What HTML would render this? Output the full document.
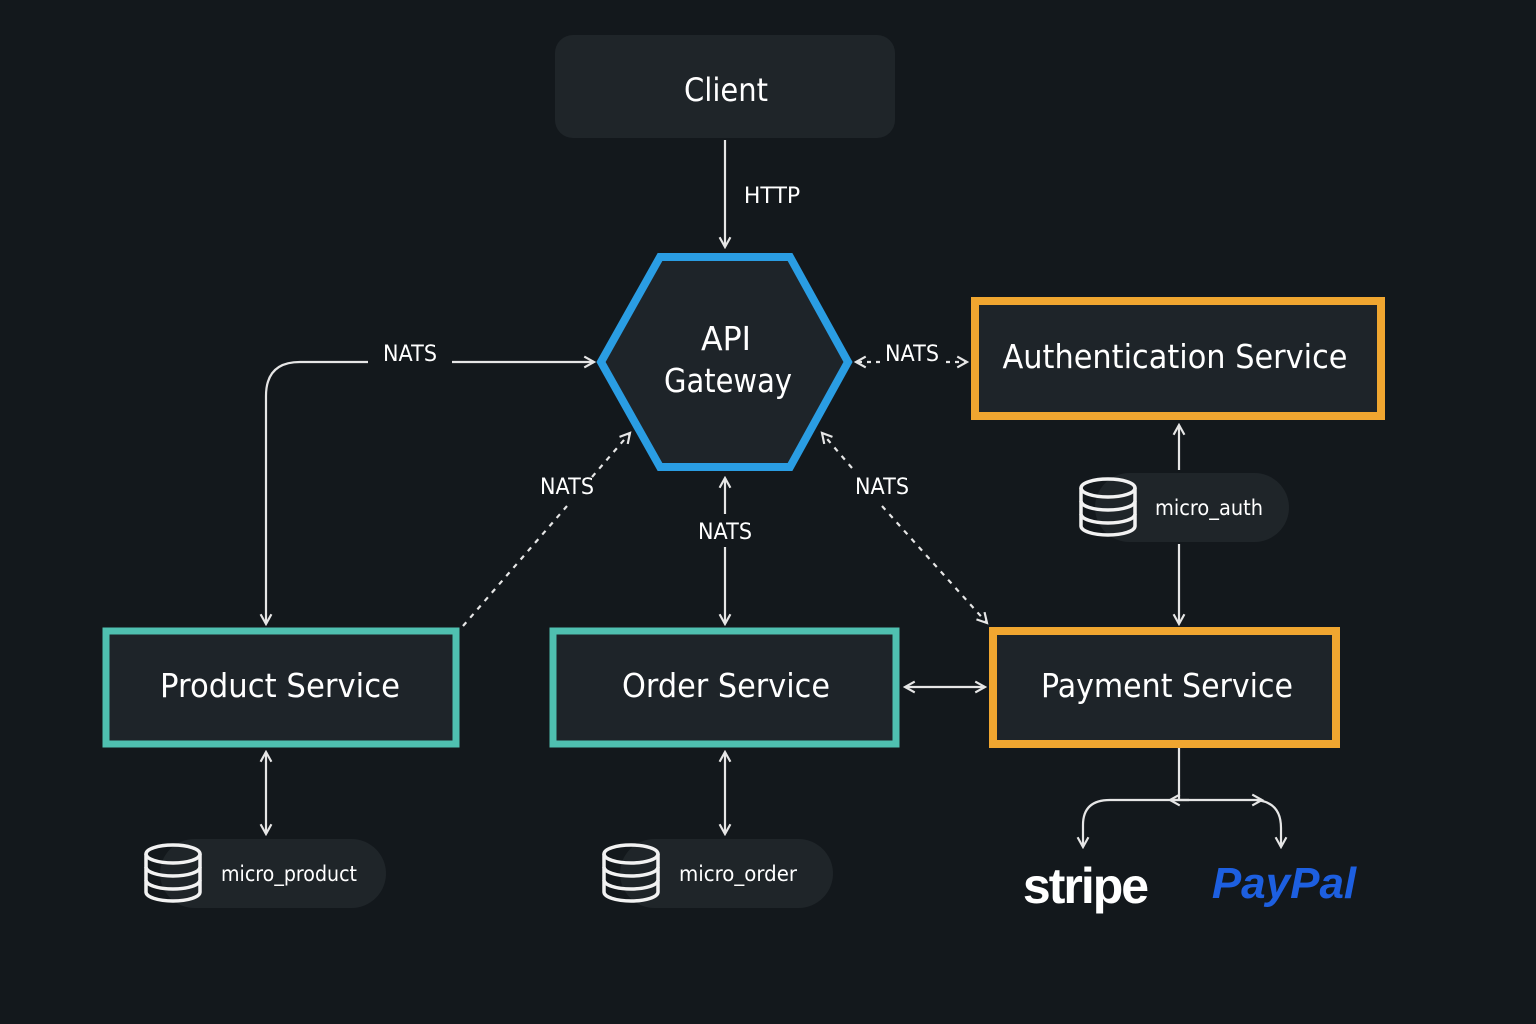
<!DOCTYPE html>
<html><head><meta charset="utf-8"><style>
html,body{margin:0;padding:0;background:#13181c;}
svg{display:block}
text{font-family:"DejaVu Sans","Liberation Sans",sans-serif;fill:#fff}
</style></head><body>
<svg width="1536" height="1024" viewBox="0 0 1536 1024" xmlns="http://www.w3.org/2000/svg">
<defs>
<marker id="a" viewBox="0 0 12 12" refX="10" refY="6" markerWidth="13" markerHeight="13" markerUnits="userSpaceOnUse" orient="auto-start-reverse">
<path d="M1,1 L10,6 L1,11" fill="none" stroke="#e6e6e6" stroke-width="2"/>
</marker>
<symbol id="db" viewBox="0 0 62 62">
<g fill="none" stroke="#f2f2f2" stroke-width="3.5">
<ellipse cx="31" cy="12" rx="27" ry="9"/>
<path d="M4,12 V50 A27,9 0 0 0 58,50 V12"/>
<path d="M4,25 A27,9 0 0 0 58,25"/>
<path d="M4,38 A27,9 0 0 0 58,38"/>
</g>
</symbol>
</defs>
<rect width="1536" height="1024" fill="#13181c"/>

<!-- Client -->
<rect x="555" y="35" width="340" height="103" rx="18" fill="#1f2529"/>
<text x="726" y="101" font-size="32" text-anchor="middle" textLength="84" lengthAdjust="spacingAndGlyphs">Client</text>
<line x1="725" y1="140" x2="725" y2="247" stroke="#e6e6e6" stroke-width="2.2" marker-end="url(#a)"/>
<text x="772" y="203" font-size="22" text-anchor="middle">HTTP</text>

<!-- Hexagon -->
<polygon points="601,362 660,257 790,257 848,362 790,467 660,467" fill="#1e2429" stroke="#2a9de3" stroke-width="8" stroke-linejoin="miter"/>
<text x="726" y="350" font-size="33" text-anchor="middle" textLength="50" lengthAdjust="spacingAndGlyphs">API</text>
<text x="728" y="392" font-size="33" text-anchor="middle" textLength="128" lengthAdjust="spacingAndGlyphs">Gateway</text>

<!-- Auth -->
<rect x="975" y="301" width="406" height="115" fill="#1e2429" stroke="#f0a630" stroke-width="8"/>
<text x="1175" y="368" font-size="33" text-anchor="middle" textLength="345" lengthAdjust="spacingAndGlyphs">Authentication Service</text>

<!-- Product / Order / Payment -->
<rect x="106" y="631" width="350" height="113" fill="#1e2429" stroke="#4fc0b0" stroke-width="7"/>
<text x="280" y="697" font-size="33" text-anchor="middle" textLength="240" lengthAdjust="spacingAndGlyphs">Product Service</text>
<rect x="553" y="631" width="343" height="113" fill="#1e2429" stroke="#4fc0b0" stroke-width="7"/>
<text x="726" y="697" font-size="33" text-anchor="middle" textLength="208" lengthAdjust="spacingAndGlyphs">Order Service</text>
<rect x="993" y="631" width="343" height="113" fill="#1e2429" stroke="#f0a630" stroke-width="8"/>
<text x="1167" y="697" font-size="33" text-anchor="middle" textLength="252" lengthAdjust="spacingAndGlyphs">Payment Service</text>

<!-- DB pills -->
<rect x="160" y="839" width="226" height="69" rx="34.5" fill="#1f2529"/>
<use href="#db" x="142" y="842" width="62" height="62"/>
<text x="289" y="881" font-size="21" text-anchor="middle" textLength="136" lengthAdjust="spacingAndGlyphs">micro_product</text>

<rect x="620" y="839" width="213" height="69" rx="34.5" fill="#1f2529"/>
<use href="#db" x="600" y="842" width="62" height="62"/>
<text x="738" y="881" font-size="21" text-anchor="middle" textLength="118" lengthAdjust="spacingAndGlyphs">micro_order</text>

<rect x="1095" y="473" width="194" height="69" rx="34.5" fill="#1f2529"/>
<use href="#db" x="1077" y="476" width="62" height="62"/>
<text x="1209" y="515" font-size="21" text-anchor="middle" textLength="108" lengthAdjust="spacingAndGlyphs">micro_auth</text>

<!-- Connectors -->
<g stroke="#e6e6e6" stroke-width="2.2" fill="none">
<path d="M368,362 H300 Q266,362 266,396 V624" marker-end="url(#a)"/>
<line x1="452" y1="362" x2="594" y2="362" marker-end="url(#a)"/>
<line x1="463" y1="626" x2="567" y2="506" stroke-dasharray="5,6"/>
<line x1="592" y1="477" x2="630" y2="433" stroke-dasharray="5,6" marker-end="url(#a)"/>
<line x1="882" y1="506" x2="987" y2="623" stroke-dasharray="5,6" marker-end="url(#a)"/>
<line x1="852" y1="468" x2="822" y2="433" stroke-dasharray="5,6" marker-end="url(#a)"/>
<line x1="725" y1="514" x2="725" y2="478" marker-end="url(#a)"/>
<line x1="725" y1="547" x2="725" y2="624" marker-end="url(#a)"/>
<line x1="880" y1="362" x2="856" y2="362" stroke-dasharray="4,5" marker-end="url(#a)"/>
<line x1="946" y1="362" x2="967" y2="362" stroke-dasharray="4,5" marker-end="url(#a)"/>
<line x1="1179" y1="470" x2="1179" y2="425" marker-end="url(#a)"/>
<line x1="1179" y1="544" x2="1179" y2="624" marker-end="url(#a)"/>
<line x1="905" y1="687" x2="985" y2="687" marker-start="url(#a)" marker-end="url(#a)"/>
<line x1="266" y1="752" x2="266" y2="834" marker-start="url(#a)" marker-end="url(#a)"/>
<line x1="725" y1="752" x2="725" y2="834" marker-start="url(#a)" marker-end="url(#a)"/>
<line x1="1179" y1="748" x2="1179" y2="800"/>
<path d="M1189,800 H1110 Q1083,800 1083,825 V847" marker-end="url(#a)"/>
<line x1="1170" y1="800" x2="1262" y2="800" marker-start="url(#a)" marker-end="url(#a)"/>
<path d="M1256,800 Q1281,802 1281,828 V847" marker-end="url(#a)"/>
</g>
<text x="410" y="361" font-size="22" text-anchor="middle" textLength="54" lengthAdjust="spacingAndGlyphs">NATS</text>
<text x="567" y="494" font-size="22" text-anchor="middle" textLength="54" lengthAdjust="spacingAndGlyphs">NATS</text>
<text x="882" y="494" font-size="22" text-anchor="middle" textLength="54" lengthAdjust="spacingAndGlyphs">NATS</text>
<text x="725" y="539" font-size="22" text-anchor="middle" textLength="54" lengthAdjust="spacingAndGlyphs">NATS</text>
<text x="912" y="361" font-size="22" text-anchor="middle" textLength="54" lengthAdjust="spacingAndGlyphs">NATS</text>

<!-- Logos -->
<text x="1085" y="903" font-size="50" font-weight="bold" text-anchor="middle" letter-spacing="-2" style="font-family:'Liberation Sans',sans-serif">stripe</text>
<text x="1284" y="898" font-size="44" font-weight="bold" font-style="italic" text-anchor="middle" style="fill:#1d5fe0;font-family:'Liberation Sans',sans-serif">PayPal</text>
</svg>
</body></html>
